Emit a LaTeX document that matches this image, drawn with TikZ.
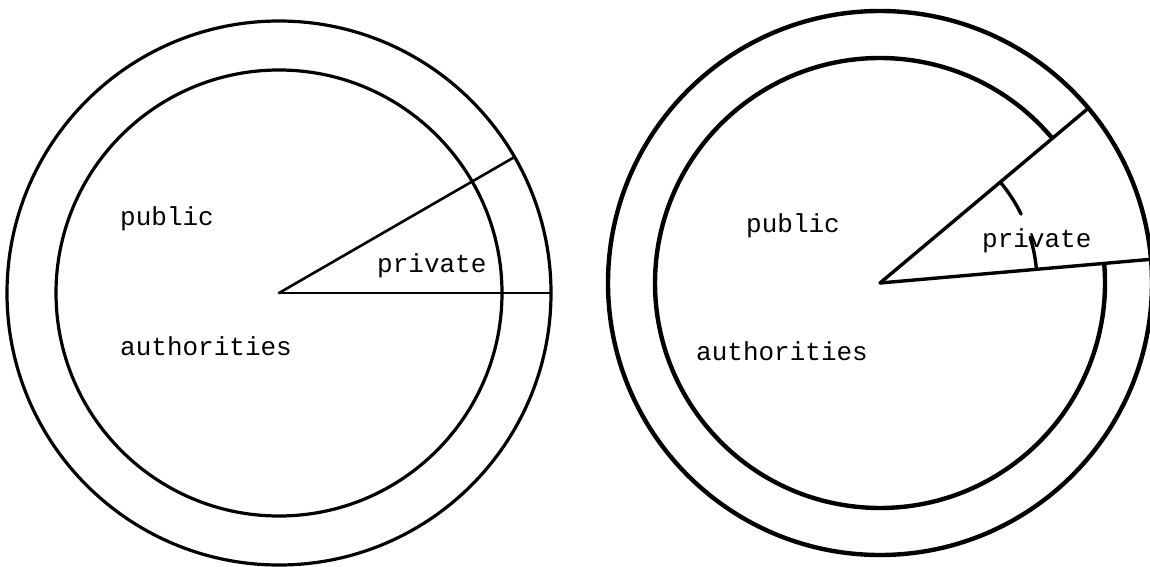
\documentclass[tikz,border=0pt]{standalone}
\usepackage{fontspec}
\setmonofont{Liberation Mono}
\begin{document}
\begin{tikzpicture}[x=1pt,y=1pt,ring/.style={draw,line width=3.2pt},cut/.style={draw,line width=2.6pt,line cap=round},ringb/.style={draw,line width=4.4pt},cutb/.style={draw,line width=3.4pt,line cap=round},lbl/.style={font=\ttfamily\fontsize{26}{26}\selectfont,inner sep=0pt,anchor=base west}]
\useasboundingbox (0,0) rectangle (1150,566);
% left chart
\coordinate (lc) at (279,273);
\path (lc) ++(0:272) coordinate (llo) (lc) ++(30:272) coordinate (lhi);
\draw[ring] (lc) circle[radius=272];\draw[ring] (lc) circle[radius=223];
\draw[cut] (lc) -- (llo);\draw[cut] (lc) -- (lhi);
\node[lbl] (lpub) at (120,341) {public};
\node[lbl] (lauth) at (120,211) {authorities};
\node[lbl] (lpriv) at (377,294) {private};
% right chart
\coordinate (rc) at (880,283);
\path (rc) ++(5:272) coordinate (rlo) (rc) ++(40:272) coordinate (rhi);
\draw[ringb] (rc) circle[radius=272];
\draw[ringb] (rc) ++(40:225) arc[start angle=40,end angle=365,radius=225];
\draw[cutb] (rc) -- (rlo);\draw[cutb] (rc) -- (rhi);
\draw[cutb] (rc) ++(40:157) arc[start angle=40,end angle=26,radius=157];
\draw[cutb] (rc) ++(17:157) arc[start angle=17,end angle=5,radius=157];
\node[lbl] (rpub) at (746,334) {public};
\node[lbl] (rauth) at (696,206) {authorities};
\node[lbl] (rpriv) at (982,319) {private};
\end{tikzpicture}
\end{document}
